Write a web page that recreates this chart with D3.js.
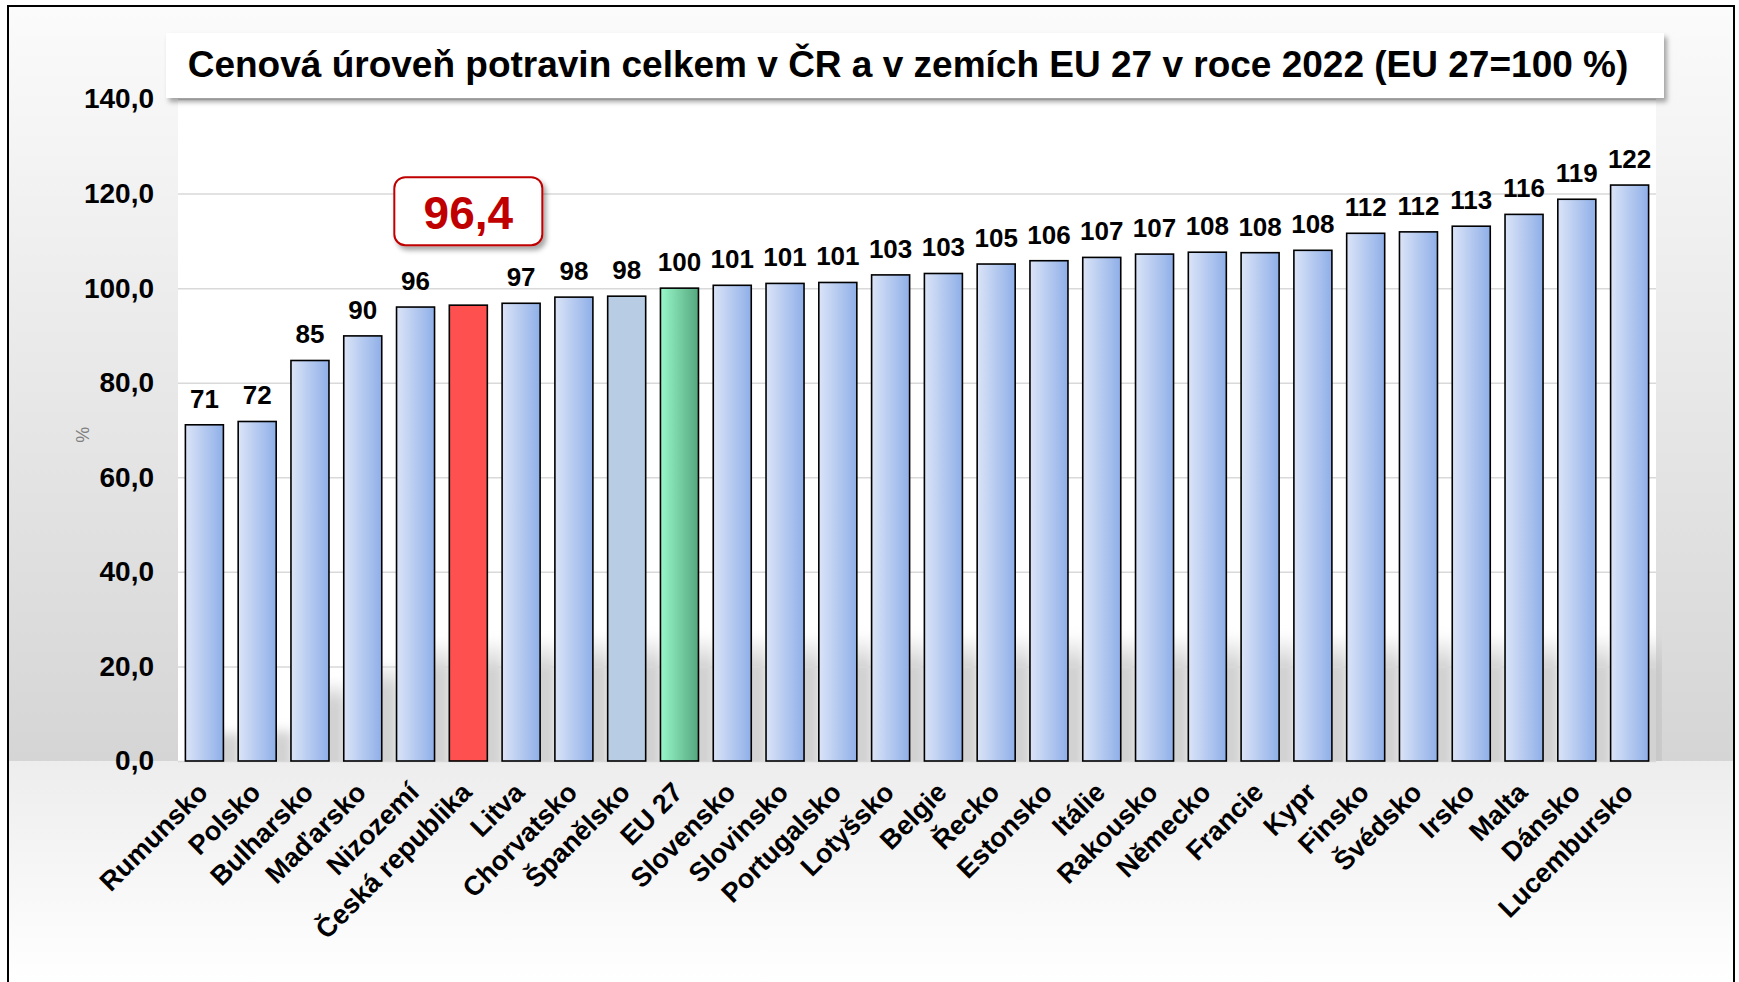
<!DOCTYPE html>
<html>
<head>
<meta charset="utf-8">
<script src="https://cdn.jsdelivr.net/npm/d3@7"></script>
<style>
  body { margin: 0; background: #fff; }
  svg { display: block; font-family: "Liberation Sans", Arial, sans-serif; }
  .grid line { stroke: #d9d9d9; stroke-width: 1.5; }
  .grid path { display: none; }
  .yaxis text { font-size: 28px; font-weight: bold; fill: #000; }
  .yaxis path, .yaxis line { display: none; }
  .xlab { font-size: 27px; font-weight: bold; fill: #000; }
  .val { font-size: 26px; font-weight: bold; fill: #000; }
</style>
</head>
<body>
<script>
// data
var countries = ["Rumunsko", "Polsko", "Bulharsko", "Maďarsko", "Nizozemí", "Česká republika",
  "Litva", "Chorvatsko", "Španělsko", "EU 27", "Slovensko", "Slovinsko", "Portugalsko",
  "Lotyšsko", "Belgie", "Řecko", "Estonsko", "Itálie", "Rakousko", "Německo", "Francie",
  "Kypr", "Finsko", "Švédsko", "Irsko", "Malta", "Dánsko", "Lucembursko"];
var values = [71.1, 71.8, 84.7, 89.9, 96.0, 96.4, 96.8, 98.1, 98.3, 100, 100.6, 101.0, 101.2,
  102.8, 103.1, 105.1, 105.8, 106.5, 107.2, 107.6, 107.5, 108.0, 111.6, 111.9, 113.1, 115.6, 118.8, 121.8];
var labels = ["71", "72", "85", "90", "96", "", "97", "98", "98", "100", "101", "101", "101",
  "103", "103", "105", "106", "107", "107", "108", "108", "108", "112", "112", "113", "116", "119", "122"];
var yTicks = [0, 20, 40, 60, 80, 100, 120, 140];
var title = "Cenová úroveň potravin celkem v ČR a v zemích EU 27 v roce 2022 (EU 27=100 %)";
var highlight = "Česká republika";
var highlightLabel = "96,4";

//Formats
var width = 1739, height = 982;
var plot = {left: 178, right: 1656, top: 99, bottom: 761};

var svg = d3.select("body").append("svg")
  .attr("width", width)
  .attr("height", height);

var defs = svg.append("defs");

function linGrad(id, x2, y2, stops) {
  var g = defs.append("linearGradient").attr("id", id)
    .attr("x1", 0).attr("y1", 0).attr("x2", x2).attr("y2", y2);
  stops.forEach(function(s) {
    g.append("stop").attr("offset", s[0]).attr("stop-color", s[1])
      .attr("stop-opacity", s[2] === undefined ? 1 : s[2]);
  });
}
linGrad("bgTop", 0, 1, [[0, "#fbfbfb"], [1, "#d5d5d5"]]);
linGrad("bgBot", 0, 1, [[0, "#ededed"], [1, "#ffffff"]]);
linGrad("barBlue", 1, 0, [[0, "#dbe4f7"], [1, "#8fafe8"]]);
linGrad("barGreen", 1, 0, [[0, "#98f8c9"], [1, "#55a67e"]]);
linGrad("shadeGrad", 0, 1, [[0, "#c3c3c3", 0], [0.25, "#c3c3c3", 0.75], [1, "#c3c3c3", 0.75]]);

var shadow = defs.append("filter").attr("id", "shadow")
  .attr("x", "-5%").attr("y", "-20%").attr("width", "115%").attr("height", "160%");
shadow.append("feDropShadow").attr("dx", 3).attr("dy", 4).attr("stdDeviation", 2.5)
  .attr("flood-color", "#000").attr("flood-opacity", 0.35);

var blur = defs.append("filter").attr("id", "blur")
  .attr("x", "-60%").attr("y", "-30%").attr("width", "220%").attr("height", "160%");
blur.append("feGaussianBlur").attr("stdDeviation", 4);

var clip = defs.append("clipPath").attr("id", "plotclip");

//Background
svg.append("rect").attr("x", 8).attr("y", 6).attr("width", 1726).attr("height", plot.bottom - 6)
  .attr("fill", "url(#bgTop)");
svg.append("rect").attr("x", 8).attr("y", plot.bottom).attr("width", 1726).attr("height", height - plot.bottom)
  .attr("fill", "url(#bgBot)");

//Scales
var x = d3.scaleBand().domain(countries).range([plot.left, plot.right])
  .paddingInner(0.28).paddingOuter(0.14);
var y = d3.scaleLinear().domain([0, 140]).range([plot.bottom, plot.top]);

clip.append("rect").attr("x", plot.left).attr("y", plot.top)
  .attr("width", plot.right - plot.left + 6).attr("height", plot.bottom - plot.top);

//Plot area
svg.append("rect").attr("x", plot.left).attr("y", plot.top)
  .attr("width", plot.right - plot.left).attr("height", plot.bottom - plot.top)
  .attr("fill", "#fff");

var data = countries.map(function(c, i) { return {name: c, value: values[i], label: labels[i]}; });

// soft floor shadows cast by each bar to the right
function shadeH(d) { return Math.min(128, (d.value - 62) * 3.6); }
svg.append("g")
  .attr("clip-path", "url(#plotclip)")
  .selectAll(".shade")
  .data(data)
  .enter().append("rect")
  .attr("class", "shade")
  .attr("x", function(d) { return x(d.name) + 10; })
  .attr("width", x.bandwidth() + 6)
  .attr("y", function(d) { return y(0) - shadeH(d); })
  .attr("height", function(d) { return shadeH(d) + 10; })
  .attr("fill", "url(#shadeGrad)")
  .attr("filter", "url(#blur)");

svg.append("g")
  .attr("class", "grid")
  .attr("transform", "translate(" + plot.left + ",0)")
  .call(d3.axisLeft(y).tickValues(yTicks).tickSize(-(plot.right - plot.left)).tickFormat(""));

svg.append("g")
  .attr("class", "yaxis")
  .attr("transform", "translate(" + plot.left + ",0)")
  .call(d3.axisLeft(y).tickValues(yTicks).tickSize(0).tickPadding(24)
    .tickFormat(function(d) { return d3.format(".1f")(d).replace(".", ","); }));

svg.append("text")
  .attr("transform", "translate(89," + y(69) + ") rotate(-90)")
  .attr("text-anchor", "middle")
  .attr("font-size", 18)
  .attr("fill", "#7f7f7f")
  .text("%");

//Bars
function barFill(d) {
  if (d.name === highlight) return "#ff5050";
  if (d.name === "EU 27") return "url(#barGreen)";
  if (d.name === "Španělsko") return "#b8cce4";
  return "url(#barBlue)";
}

svg.selectAll(".bar")
  .data(data)
  .enter().append("rect")
  .attr("class", "bar")
  .attr("x", function(d) { return x(d.name); })
  .attr("y", function(d) { return y(d.value); })
  .attr("width", x.bandwidth())
  .attr("height", function(d) { return y(0) - y(d.value); })
  .attr("fill", barFill)
  .attr("stroke", "#000")
  .attr("stroke-width", 1.6);

svg.selectAll(".val")
  .data(data)
  .enter().append("text")
  .attr("class", "val")
  .attr("x", function(d) { return x(d.name) + x.bandwidth() / 2; })
  .attr("y", function(d) { return y(d.value) - 17; })
  .attr("text-anchor", "middle")
  .text(function(d) { return d.label; });

//Category labels
svg.selectAll(".xlab")
  .data(data)
  .enter().append("text")
  .attr("class", "xlab")
  .attr("text-anchor", "end")
  .attr("transform", function(d) {
    return "translate(" + (x(d.name) + x.bandwidth() / 2 + 5) + "," + (plot.bottom + 33) + ") rotate(-45)";
  })
  .text(function(d) { return d.name; });

//Callout for ČR
var hx = x(highlight) + x.bandwidth() / 2;
var hv = values[countries.indexOf(highlight)];
var callout = svg.append("g").attr("transform", "translate(" + hx + "," + (y(hv) - 94) + ")");
callout.append("rect")
  .attr("x", -74).attr("y", -34).attr("width", 148).attr("height", 68)
  .attr("rx", 11)
  .attr("fill", "#fff").attr("stroke", "#c00000").attr("stroke-width", 2)
  .attr("filter", "url(#shadow)");
callout.append("text")
  .attr("text-anchor", "middle")
  .attr("y", 18)
  .attr("font-size", 46).attr("font-weight", "bold").attr("fill", "#c00000")
  .text(highlightLabel);

//Title
var tg = svg.append("g");
tg.append("rect")
  .attr("x", 166).attr("y", 33).attr("width", 1498).attr("height", 65)
  .attr("fill", "#fff")
  .attr("filter", "url(#shadow)");
tg.append("text")
  .attr("x", 908)
  .attr("y", 77)
  .attr("text-anchor", "middle")
  .attr("font-size", 37).attr("font-weight", "bold")
  .text(title);

//Frame
svg.append("rect").attr("x", 8).attr("y", 6).attr("width", 1726).attr("height", 1000)
  .attr("fill", "none").attr("stroke", "#000").attr("stroke-width", 2);
</script>
</body>
</html>
